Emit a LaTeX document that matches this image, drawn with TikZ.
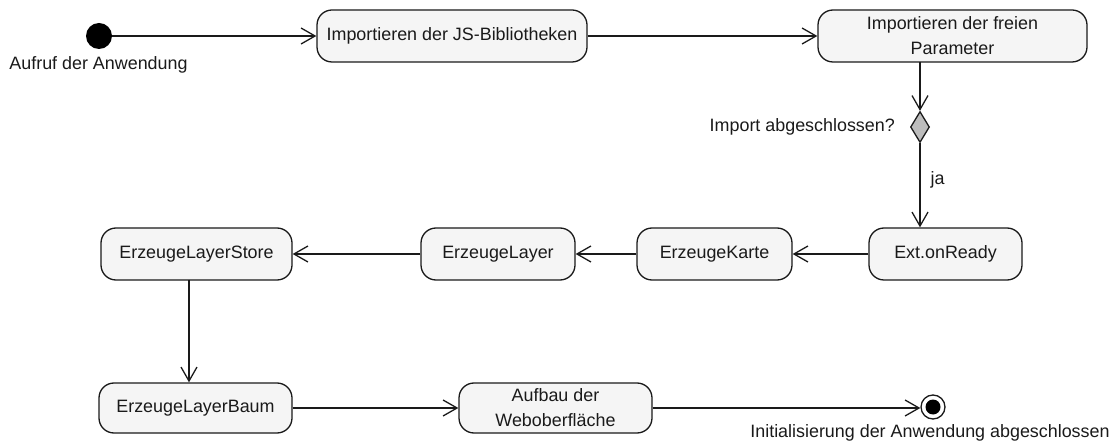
\documentclass[tikz,border=0pt]{standalone}
\usepackage{fontspec}
\setmainfont{Liberation Sans}
\usetikzlibrary{arrows.meta,shapes.geometric}
\definecolor{actfill}{HTML}{F5F5F5}
\definecolor{decfill}{HTML}{BDBDBD}
\definecolor{ink}{HTML}{1A1A1A}
\begin{document}
\begin{tikzpicture}[x=1pt,y=-1pt,
  font=\fontsize{17.9}{25}\selectfont,
  every node/.style={text=ink},
  action/.style={draw=ink, line width=1.3pt, fill=actfill, rounded corners=15pt,
    minimum height=52pt, inner sep=0pt, align=center},
  flow/.style={draw=ink, line width=1.3pt,
    -{Straight Barb[length=14pt,width=16pt,line width=1.3pt]}},
  initial/.style={circle, fill=black, minimum size=26pt, inner sep=0pt},
  decision/.style={diamond, draw=ink, line width=1.3pt, fill=decfill,
    minimum width=19pt, minimum height=31pt, inner sep=0pt},
  lbl/.style={inner sep=0pt}
]
\useasboundingbox (0,0) rectangle (1113,443);

% start and first row
\node[initial] (start) at (99,36) {};
\node[lbl] (startlbl) at (98.5,65) {Aufruf der Anwendung};
\node[action, minimum width=270pt] (imp1) at (452,36) {Importieren der JS-Bibliotheken};
\node[action, minimum width=269pt] (imp2) at (952.5,36) {Importieren der freien\\Parameter};

% decision
\node[decision] (dec) at (920,127) {};
\node[lbl, anchor=east] (declbl) at (895,127) {Import abgeschlossen?};
\coordinate (decin) at (920,62);

% second row
\node[action, minimum width=153pt] (ext) at (945.5,254) {Ext.onReady};
\node[action, minimum width=155pt] (karte) at (714.5,254) {ErzeugeKarte};
\node[action, minimum width=154pt] (layer) at (498,254) {ErzeugeLayer};
\node[action, minimum width=191pt] (store) at (196.5,254) {ErzeugeLayerStore};

% third row
\node[action, minimum width=193pt, minimum height=50pt] (baum) at (195.5,408) {ErzeugeLayerBaum};
\node[action, minimum width=193pt, minimum height=50pt] (aufbau) at (555.5,408) {Aufbau der\\Weboberfläche};
\node[circle, draw=ink, line width=1.3pt, fill=white, minimum size=24pt, inner sep=0pt] (final) at (933,407) {};
\node[circle, fill=black, minimum size=15pt, inner sep=0pt] (finaldot) at (final.center) {};
\node[lbl] (finallbl) at (930,433) {Initialisierung der Anwendung abgeschlossen};

% connectors
\draw[flow] (start) -- (imp1);
\draw[flow] (imp1) -- (imp2);
\draw[flow] (decin) -- (dec.north);
\draw[flow] (dec.south) -- node[lbl, right=10pt, pos=0.44] (ja) {ja} (dec.south |- ext.north);
\draw[flow] (ext) -- (karte);
\draw[flow] (karte) -- (layer);
\draw[flow] (layer) -- (store);
\coordinate (storeout) at (189,280);
\draw[flow] (storeout) -- (storeout |- baum.north);
\draw[flow] (baum) -- (aufbau);
\draw[flow] (aufbau.east) -- (final.west |- aufbau.east);
\end{tikzpicture}
\end{document}
